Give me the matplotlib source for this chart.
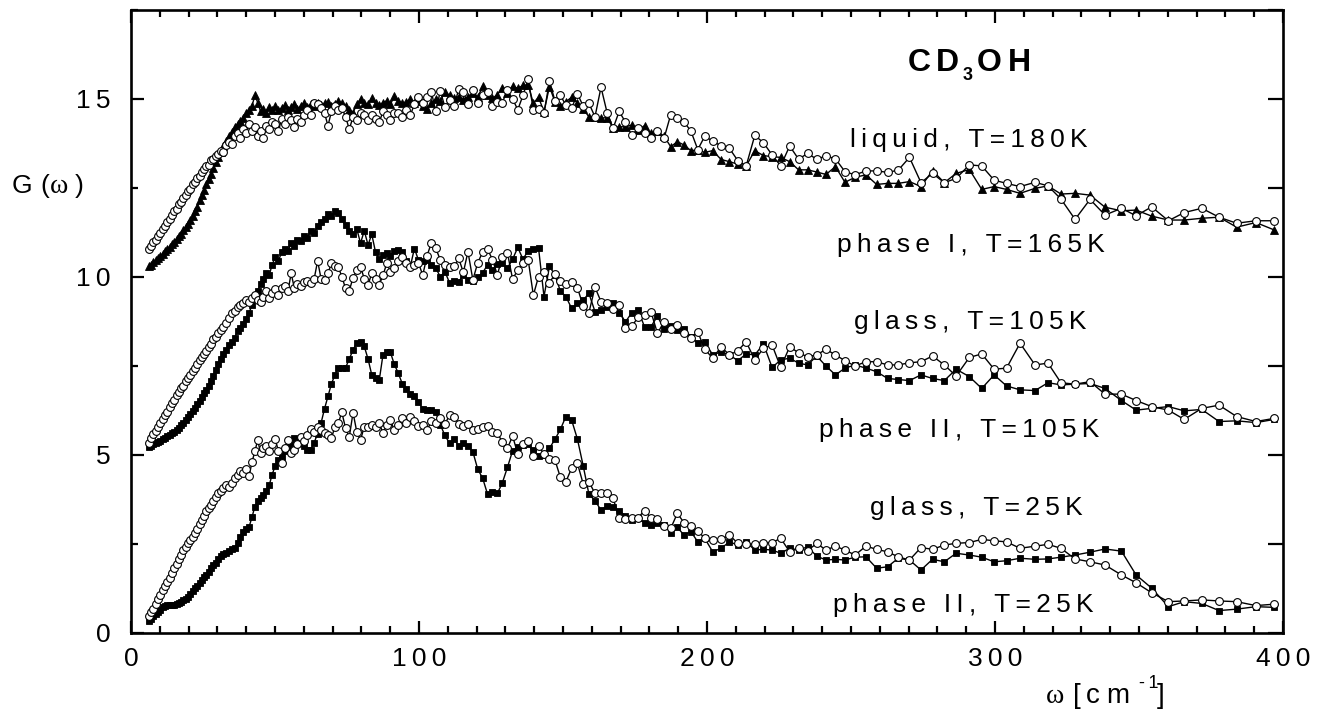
import matplotlib
matplotlib.use('Agg')
import matplotlib.pyplot as plt
from matplotlib.ticker import FixedLocator, MultipleLocator, NullFormatter

plt.rcParams['font.family'] = ['Liberation Sans', 'DejaVu Sans']
plt.rcParams['mathtext.fontset'] = 'custom'
plt.rcParams['mathtext.rm'] = 'Liberation Sans'
plt.rcParams['mathtext.it'] = 'Liberation Sans:italic'
plt.rcParams['mathtext.bf'] = 'Liberation Sans:bold'

# ---------------- data ----------------
omega = [6.2, 7.0, 7.8, 8.6, 9.4, 10.2, 11.0, 11.8, 12.6, 13.4, 14.2, 15.0, 15.8, 16.6, 17.4,
         18.2, 19.0, 19.8, 20.6, 21.4, 22.2, 23.0, 23.8, 24.6, 25.4, 26.2, 27.0, 27.8, 28.6, 29.4,
         30.3, 31.2, 32.1, 33.0, 34.0, 35.0, 36.0, 37.0, 38.0, 39.0, 40.0, 41.0, 42.0, 43.0, 44.0,
         45.0, 46.0, 47.0, 48.0, 49.0, 50.1, 51.2, 52.3, 53.4, 54.5, 55.6, 56.7, 57.8, 58.9, 60.0,
         61.2, 62.4, 63.6, 64.8, 66.0, 67.2, 68.4, 69.6, 70.8, 72.0, 73.2, 74.5, 75.8, 77.1, 78.4,
         79.7, 81.0, 82.3, 83.6, 84.9, 86.2, 87.5, 88.8, 90.1, 91.4, 92.8, 94.2, 95.6, 97.0, 98.4, 99.8,
         101.3, 102.8, 104.3, 105.8, 107.4, 109.0, 110.6, 112.2, 113.8, 115.4, 117.0, 118.7, 120.4,
         122.1, 123.8, 125.5, 127.2, 128.9, 130.7, 132.5, 134.3, 136.1, 137.9, 139.7, 141.5, 143.4,
         145.3, 147.2, 149.1,
         151.0, 153.0, 155.0, 157.0, 159.0, 161.1, 163.2, 165.3, 167.4, 169.5, 171.7, 173.9, 176.1,
         178.3, 180.5, 182.8, 185.1, 187.4, 189.7, 192.0, 194.4, 196.8, 199.2,
         202.0, 204.9, 207.8, 210.7, 213.6, 216.6, 219.6, 222.6, 225.6, 228.7, 231.8, 234.9, 238.1,
         241.3, 244.6, 247.9,
         251.4, 255.2, 258.9, 262.7, 266.4, 270.3, 274.3, 278.3, 282.4, 286.5, 291.1, 295.4, 299.7,
         304.0, 308.7, 313.9, 318.4, 322.9, 327.8, 333.0, 338.2, 343.9, 349.0, 354.4, 360.2, 365.7,
         371.8, 377.8, 383.9, 390.6, 397.0]

liquid_180K = [10.80, 10.88, 10.98, 11.05, 11.15, 11.25, 11.35, 11.42, 11.55, 11.62, 11.75, 11.85, 11.92, 12.05, 12.12,
               12.22, 12.30, 12.42, 12.48, 12.60, 12.66, 12.78, 12.85, 12.95, 13.02, 13.12, 13.15, 13.28, 13.32, 13.40,
               13.45, 13.55, 13.50, 13.72, 13.80, 13.75, 13.95, 14.05, 13.90, 14.15, 14.05, 14.30, 14.10, 14.22, 13.95,
               14.10, 13.90, 14.25, 14.15, 14.35, 14.30, 14.10, 14.45, 14.30, 14.50, 14.40, 14.20, 14.45, 14.35, 14.55,
               14.70, 14.55, 14.90, 14.85, 14.75, 14.60, 14.25, 14.65, 14.80, 14.70, 14.75, 14.50, 14.15, 14.50, 14.40,
               14.60, 14.55, 14.40, 14.55, 14.45, 14.35, 14.65, 14.55, 14.40, 14.60, 14.62, 14.50, 14.70, 14.55, 14.85, 15.05,
               14.88, 15.05, 15.20, 14.65, 15.22, 14.78, 14.97, 14.80, 15.28, 15.20, 14.85, 15.24, 14.90, 15.10, 15.20,
               14.80, 14.92, 14.90, 15.24, 15.00, 14.70, 15.10, 15.56, 14.70, 14.72, 14.60, 15.50, 14.95, 15.10,
               14.83, 14.74, 15.15, 14.80, 14.88, 14.50, 15.33, 14.62, 14.18, 14.65, 14.35, 13.98, 14.18, 14.05, 13.90,
               14.10, 13.90, 14.56, 14.46, 14.36, 14.10, 13.58, 13.95,
               13.82, 13.68, 13.61, 13.27, 13.12, 13.98, 13.77, 13.43, 13.12, 13.68, 13.31, 13.47, 13.31, 13.40, 13.32, 12.96,
               12.87, 12.98, 12.98, 12.94, 13.00, 13.36, 12.65, 12.91, 12.65, 12.77, 13.15, 13.12, 12.72, 12.63, 12.54,
               12.66, 12.56, 12.19, 11.62, 12.18, 11.74, 11.93, 11.72, 11.97, 11.58, 11.81, 11.93, 11.68, 11.51, 11.58, 11.58]

phase1_165K = [10.30, 10.35, 10.42, 10.47, 10.52, 10.58, 10.65, 10.72, 10.78, 10.85, 10.92, 10.98, 11.06, 11.14, 11.22,
               11.32, 11.40, 11.50, 11.60, 11.72, 11.85, 11.98, 12.15, 12.30, 12.45, 12.60, 12.75, 12.90, 13.05, 13.22,
               13.38, 13.52, 13.68, 13.82, 13.96, 14.08, 14.20, 14.30, 14.38, 14.48, 14.60, 14.70, 14.80, 15.10, 14.90,
               14.65, 14.72, 14.62, 14.78, 14.70, 14.80, 14.68, 14.75, 14.82, 14.70, 14.78, 14.85, 14.72, 14.80, 14.88,
               14.78, 14.85, 14.80, 14.90, 14.82, 14.88, 14.92, 14.80, 14.85, 14.95, 14.88, 14.80, 14.70, 14.62, 14.85,
               15.00, 14.90, 14.85, 15.02, 14.88, 14.82, 14.90, 14.95, 14.85, 15.08, 14.95, 14.88, 14.92, 15.00, 14.90, 14.95,
               14.80, 14.72, 14.88, 15.00, 14.95, 15.20, 15.10, 15.02, 15.07, 14.98, 15.07, 15.16, 15.05, 15.36, 15.10,
               15.02, 15.12, 15.30, 15.16, 15.36, 15.30, 15.38, 15.40, 14.88, 15.05, 14.64, 15.35, 14.92, 14.80,
               14.92, 15.05, 14.90, 14.72, 14.50, 14.50, 14.46, 14.48, 14.18, 14.22, 14.22, 14.27, 14.13, 14.25, 14.04,
               14.10, 13.95, 13.66, 13.80, 13.71, 13.55, 13.57, 13.50,
               13.55, 13.30, 13.24, 13.17, 13.12, 13.55, 13.41, 13.38, 13.36, 13.24, 13.01, 13.01, 12.95, 12.88, 13.10, 12.66,
               12.80, 12.87, 12.60, 12.63, 12.63, 12.68, 12.54, 12.99, 12.65, 12.91, 13.02, 12.46, 12.54, 12.46, 12.35,
               12.49, 12.56, 12.33, 12.35, 12.30, 11.96, 11.86, 11.88, 11.71, 11.60, 11.60, 11.65, 11.68, 11.40, 11.53, 11.32]

glass_105K = [5.35, 5.48, 5.58, 5.68, 5.80, 5.90, 6.02, 6.12, 6.22, 6.35, 6.45, 6.55, 6.68, 6.78, 6.88,
              6.95, 7.08, 7.15, 7.25, 7.35, 7.44, 7.55, 7.68, 7.76, 7.85, 7.92, 8.02, 8.12, 8.25, 8.32,
              8.42, 8.50, 8.60, 8.72, 8.85, 8.98, 9.05, 9.15, 9.20, 9.28, 9.35, 9.30, 9.42, 9.50, 9.35,
              9.30, 9.45, 9.60, 9.40, 9.55, 9.65, 9.50, 9.70, 9.75, 9.60, 10.10, 9.70, 9.80, 9.75, 9.85,
              9.90, 9.82, 9.95, 10.45, 9.95, 9.92, 10.10, 10.40, 10.30, 10.28, 10.01, 9.68, 9.62, 9.98, 10.20,
              10.29, 9.95, 9.78, 10.10, 9.95, 9.78, 10.05, 10.38, 10.15, 10.24, 10.45, 10.57, 10.40, 10.29, 10.35, 10.40,
              10.05, 10.60, 10.96, 10.81, 10.48, 10.35, 10.29, 10.30, 10.52, 10.13, 10.71, 9.92, 10.40, 10.70, 10.78,
              10.49, 10.06, 10.55, 10.68, 9.94, 10.20, 10.38, 10.49, 9.49, 10.01, 10.15, 9.84, 10.08, 9.90,
              9.80, 9.87, 9.70, 9.19, 9.00, 9.71, 9.31, 9.26, 9.09, 9.21, 8.56, 8.62, 8.87, 8.93, 9.03,
              8.42, 8.74, 8.53, 8.65, 8.44, 8.28, 8.46, 7.97,
              7.72, 8.04, 7.81, 7.93, 8.18, 7.67, 8.00, 8.09, 7.46, 8.04, 7.87, 7.76, 7.81, 7.97, 7.81, 7.65,
              7.50, 7.62, 7.62, 7.53, 7.53, 7.59, 7.62, 7.78, 7.53, 7.22, 7.74, 7.84, 7.41, 7.44, 8.14,
              7.53, 7.58, 7.03, 6.99, 7.06, 6.71, 6.71, 6.53, 6.36, 6.26, 6.00, 6.31, 6.40, 6.08, 5.94, 6.03]

phase2_105K = [5.22, 5.26, 5.30, 5.33, 5.37, 5.40, 5.44, 5.47, 5.52, 5.57, 5.61, 5.66, 5.71, 5.76, 5.83,
               5.90, 5.98, 6.07, 6.15, 6.24, 6.33, 6.42, 6.52, 6.64, 6.74, 6.83, 6.95, 7.08, 7.22, 7.38,
               7.55, 7.70, 7.85, 7.95, 8.08, 8.18, 8.30, 8.48, 8.58, 8.68, 8.82, 9.00, 9.20, 9.42, 9.62,
               9.80, 9.95, 10.10, 10.05, 10.35, 10.55, 10.45, 10.70, 10.78, 10.72, 10.95, 10.88, 11.05, 11.00, 11.15,
               11.10, 11.30, 11.25, 11.42, 11.55, 11.62, 11.78, 11.72, 11.84, 11.80, 11.62, 11.45, 11.30, 11.22, 11.35,
               10.95, 11.30, 10.90, 11.20, 10.70, 10.50, 10.62, 10.68, 10.60, 10.72, 10.76, 10.70, 10.45, 10.30, 10.80, 10.48,
               10.45, 10.48, 10.35, 10.25, 10.01, 10.15, 9.84, 9.90, 9.87, 10.05, 9.92, 9.88, 10.00, 10.12, 10.34,
               10.20, 10.37, 10.40, 10.25, 10.50, 10.83, 10.50, 10.74, 10.78, 10.82, 9.45, 10.30, 10.06, 9.60,
               9.45, 9.12, 9.26, 9.35, 9.54, 9.03, 9.07, 9.15, 9.28, 9.00, 8.74, 9.00, 9.07, 8.60, 8.60,
               8.90, 8.53, 8.62, 8.51, 8.55, 8.32, 8.14, 8.18,
               7.81, 7.90, 7.81, 7.65, 7.84, 7.81, 8.12, 7.46, 7.67, 7.72, 7.58, 7.53, 7.78, 7.50, 7.25, 7.44,
               7.53, 7.44, 7.34, 7.15, 7.12, 7.09, 7.25, 7.15, 7.09, 7.41, 7.20, 6.87, 7.25, 6.94, 6.83,
               6.81, 7.03, 6.97, 6.99, 7.01, 6.87, 6.53, 6.26, 6.31, 6.36, 6.24, 6.28, 5.94, 5.96, 5.91, 6.00]

glass_25K = [0.48, 0.58, 0.68, 0.82, 0.95, 1.08, 1.20, 1.32, 1.43, 1.55, 1.68, 1.82, 1.95, 2.08, 2.20,
             2.32, 2.42, 2.52, 2.62, 2.70, 2.80, 2.92, 3.05, 3.18, 3.30, 3.42, 3.50, 3.60, 3.72, 3.82,
             3.92, 3.98, 4.08, 4.15, 4.10, 4.22, 4.35, 4.45, 4.55, 4.50, 4.62, 4.40, 4.80, 5.10, 5.42,
             5.05, 5.20, 5.25, 5.12, 5.30, 5.45, 5.10, 4.78, 5.20, 5.42, 5.05, 5.15, 5.30, 5.50, 5.38,
             5.55, 5.72, 5.65, 5.80, 5.70, 5.61, 5.55, 5.47, 5.80, 5.90, 6.20, 5.75, 5.51, 6.19, 5.65,
             5.42, 5.80, 5.78, 5.85, 5.80, 5.90, 5.61, 5.85, 5.98, 5.70, 5.85, 6.03, 5.90, 6.08, 5.95, 5.82,
             5.85, 5.70, 5.95, 5.89, 6.03, 5.87, 6.12, 6.08, 5.87, 5.81, 5.87, 5.70, 5.72, 5.78, 5.81,
             5.65, 5.63, 5.36, 5.19, 5.53, 5.03, 5.30, 5.40, 4.97, 5.25, 5.03, 4.90, 4.86, 4.37,
             4.25, 4.63, 4.77, 4.19, 4.25, 3.92, 3.94, 3.94, 3.78, 3.24, 3.19, 3.22, 3.24, 3.44, 3.24,
             3.19, 3.01, 2.94, 3.36, 3.10, 3.01, 2.87, 2.66,
             2.61, 2.63, 2.75, 2.52, 2.50, 2.50, 2.54, 2.54, 2.66, 2.28, 2.38, 2.31, 2.52, 2.33, 2.44, 2.33,
             2.19, 2.44, 2.35, 2.28, 2.14, 2.05, 2.40, 2.35, 2.47, 2.52, 2.54, 2.63, 2.59, 2.56, 2.38,
             2.44, 2.49, 2.38, 2.08, 2.00, 1.91, 1.63, 1.41, 1.13, 0.88, 0.90, 0.93, 0.90, 0.88, 0.77, 0.81]

phase2_25K = [0.35, 0.40, 0.47, 0.53, 0.60, 0.66, 0.72, 0.76, 0.78, 0.80, 0.78, 0.80, 0.82, 0.85, 0.88,
              0.92, 0.96, 1.02, 1.10, 1.18, 1.26, 1.32, 1.40, 1.48, 1.56, 1.64, 1.72, 1.82, 1.90, 1.98,
              2.08, 2.15, 2.22, 2.26, 2.30, 2.35, 2.40, 2.52, 2.70, 2.85, 2.92, 2.98, 3.25, 3.55, 3.70,
              3.80, 3.88, 3.98, 4.15, 4.45, 4.70, 4.85, 4.95, 5.10, 5.23, 5.35, 5.47, 5.42, 5.35, 5.25,
              5.15, 5.14, 5.35, 5.60, 5.90, 6.30, 6.65, 7.00, 7.25, 7.45, 7.45, 7.45, 7.70, 7.95, 8.15,
              8.18, 8.05, 7.70, 7.25, 7.15, 7.10, 7.82, 7.90, 7.88, 7.55, 7.30, 7.00, 6.85, 6.72, 6.66, 6.50,
              6.28, 6.26, 6.26, 6.22, 5.85, 5.55, 5.33, 5.45, 5.25, 5.35, 5.25, 5.09, 4.60, 4.35, 3.90,
              3.95, 3.92, 4.21, 4.65, 5.12, 5.22, 5.28, 5.30, 5.14, 4.98, 5.00, 5.19, 5.44, 5.72,
              6.08, 5.98, 5.45, 4.70, 3.90, 3.72, 3.45, 3.57, 3.55, 3.42, 3.30, 3.18, 3.22, 3.10, 3.03,
              3.08, 3.03, 2.82, 2.97, 2.75, 2.85, 2.56, 2.66,
              2.28, 2.38, 2.56, 2.47, 2.56, 2.33, 2.35, 2.33, 2.24, 2.38, 2.33, 2.42, 2.16, 2.05, 2.07, 2.05,
              2.13, 2.14, 1.82, 1.86, 2.10, 2.05, 1.77, 2.07, 2.00, 2.24, 2.19, 2.13, 2.00, 2.03, 2.10,
              2.07, 2.08, 2.13, 2.19, 2.27, 2.36, 2.30, 1.63, 1.26, 0.74, 0.88, 0.83, 0.63, 0.67, 0.74, 0.72]

labels = ["liquid, T=180K", "phase I, T=165K", "glass, T=105K",
          "phase II, T=105K", "glass, T=25K", "phase II, T=25K"]
label_x = [290.8, 291.7, 291.3, 287.6, 293.6, 289.0]
label_y = [13.65, 10.69, 8.53, 5.51, 3.31, 0.60]

x_ticks = [0, 100, 200, 300, 400]
y_ticks = [0, 5, 10, 15]

for s in (liquid_180K, phase1_165K, glass_105K, phase2_105K, glass_25K, phase2_25K):
    assert len(s) == len(omega), len(s)

# ---------------- plot ----------------
TS = '\u2009'


def sp(s):
    return TS.join(s)


W, H = 1329, 717
fig = plt.figure(figsize=(W / 100, H / 100), dpi=100)
ax = fig.add_axes([131 / W, 1 - 633 / H, (1283 - 131) / W, (633 - 10) / H])

lw = 1.0
filled = dict(color='black', lw=lw, mfc='black', mec='black', mew=0.6)
openc = dict(color='black', lw=lw, marker='o', ms=5.6, mfc='white', mec='black', mew=0.8)

ax.plot(omega, phase1_165K, marker='^', ms=5.8, zorder=2, **filled)
ax.plot(omega, liquid_180K, zorder=3, **openc)
ax.plot(omega, phase2_105K, marker='s', ms=4.6, zorder=2, **filled)
ax.plot(omega, glass_105K, zorder=3, **openc)
ax.plot(omega, phase2_25K, marker='s', ms=4.6, zorder=2, **filled)
ax.plot(omega, glass_25K, zorder=3, **openc)

ax.set_xlim(0, 400)
ax.set_ylim(0, 17.5)

for sp_name in ax.spines:
    ax.spines[sp_name].set_linewidth(1.9)

FS = 19
ax.xaxis.set_major_locator(FixedLocator(x_ticks))
ax.xaxis.set_minor_locator(MultipleLocator(10))
ax.set_xticklabels([sp(str(v)) for v in x_ticks])
ax.yaxis.set_major_locator(FixedLocator(y_ticks))
ax.yaxis.set_minor_locator(MultipleLocator(2.5))
ax.set_yticklabels([sp(str(v)) for v in y_ticks])

ax.tick_params(which='both', direction='in', top=True, right=False, width=1.6,
               labelsize=FS)
ax.tick_params(which='major', length=9)
ax.tick_params(which='minor', length=5)
ax.tick_params(axis='y', which='major', pad=15)
ax.tick_params(axis='x', which='major', pad=10)

ax2 = ax.twinx()
ax2.set_ylim(0, 17.5)
ax2.yaxis.set_major_locator(MultipleLocator(2.5))
ax2.yaxis.set_major_formatter(NullFormatter())
ax2.tick_params(which='major', direction='in', length=10.5, width=1.6)
for sp_name in ax2.spines:
    ax2.spines[sp_name].set_visible(False)

# curve labels
for t, xv, yv in zip(labels, label_x, label_y):
    ax.text(xv, yv, sp(t), ha='center', va='baseline', fontsize=FS, zorder=5)


def px(x, y):
    return x / W, 1 - y / H


# CD3OH title
fs_b = 23
for ch, xl in (('C', 908), ('D', 936), ('O', 977), ('H', 1008)):
    fig.text(*px(xl, 70.7), ch, fontsize=fs_b, fontweight='bold', ha='left', va='baseline')
fig.text(*px(963, 80), '3', fontsize=13, fontweight='bold', ha='left', va='baseline')

# y label  G(ω)
fig.text(*px(12, 193), 'G', fontsize=FS, ha='left', va='baseline')
fig.text(*px(40, 193), '(', fontsize=FS, ha='left', va='baseline')
fig.text(*px(50, 193), 'ω', fontsize=20, family='Liberation Serif', ha='left', va='baseline')
fig.text(*px(75, 193), ')', fontsize=FS, ha='left', va='baseline')

# x label  ω [cm-1]
fig.text(*px(1046, 703), 'ω', fontsize=20, family='Liberation Serif', ha='left', va='baseline')
fig.text(*px(1073, 703), '[', fontsize=20, ha='left', va='baseline')
fig.text(*px(1086, 703), 'c', fontsize=20, ha='left', va='baseline')
fig.text(*px(1106, 703), 'm', fontsize=20, ha='left', va='baseline')
fig.text(*px(1139, 688), sp('-1'), fontsize=13, ha='left', va='baseline')
fig.text(*px(1157, 703), ']', fontsize=20, ha='left', va='baseline')

fig.savefig('out.png', dpi=100)
